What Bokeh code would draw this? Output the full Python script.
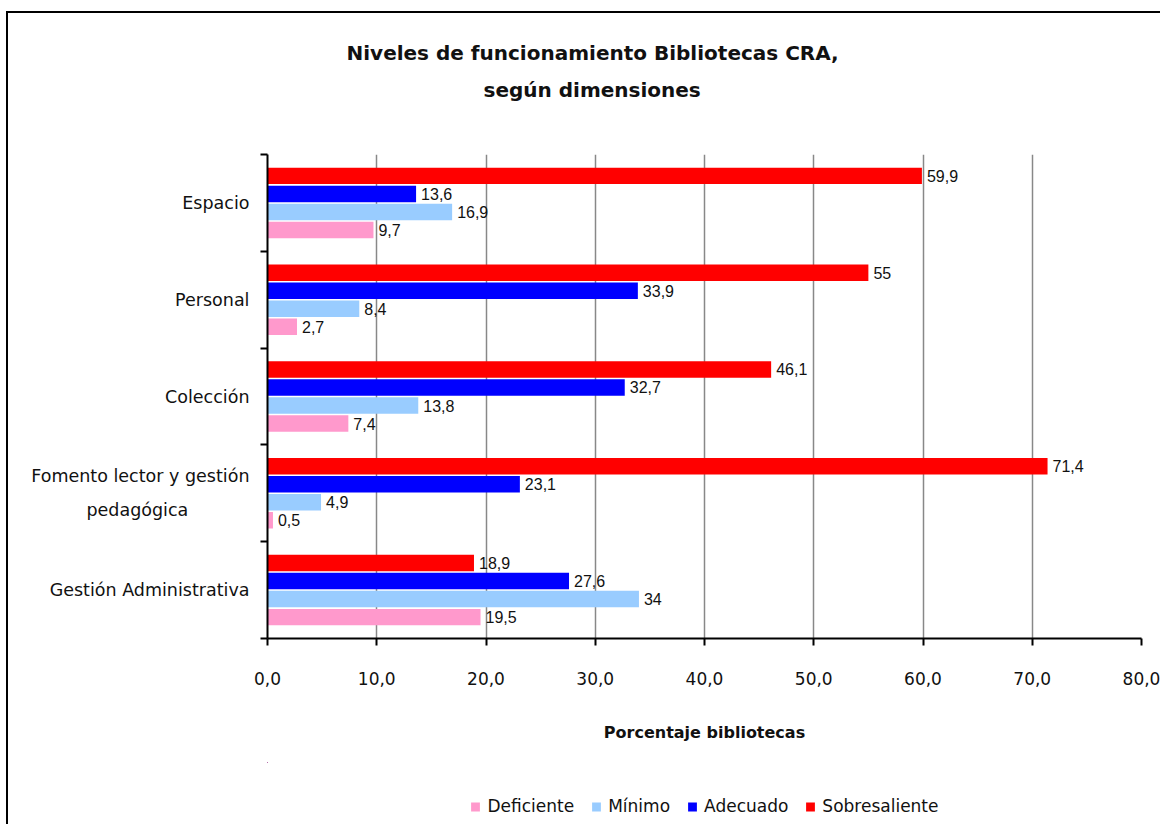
from bokeh.plotting import figure
from bokeh.layouts import column
from bokeh.models import (ColumnDataSource, Range1d, LinearAxis,
                          FixedTicker, Legend, LegendItem, Title)
from bokeh.transform import dodge
from bokeh.core.properties import value
from bokeh.embed import file_html
from bokeh.resources import INLINE

# ---------------- data ----------------
categories = ["Espacio", "Personal", "Colección",
              "Fomento lector y gestión pedagógica", "Gestión Administrativa"]
series = ["Deficiente", "Mínimo", "Adecuado", "Sobresaliente"]
deficiente = [9.7, 2.7, 7.4, 0.5, 19.5]
minimo = [16.9, 8.4, 13.8, 4.9, 34]
adecuado = [13.6, 33.9, 32.7, 23.1, 27.6]
sobresaliente = [59.9, 55, 46.1, 71.4, 18.9]
x_ticks = [0, 10, 20, 30, 40, 50, 60, 70, 80]
x_tick_labels = ["0,0", "10,0", "20,0", "30,0", "40,0", "50,0", "60,0", "70,0", "80,0"]
title_line1 = "Niveles de funcionamiento Bibliotecas CRA,"
title_line2 = "según dimensiones"
x_title = "Porcentaje bibliotecas"

colors = ["#FF99CC", "#99CCFF", "#0000FF", "#FF0000"]
offsets = [-0.279, -0.093, 0.093, 0.279]

n = len(categories)
centers = [n - 0.5 - i for i in range(n)]   # band centre of each category (top to bottom)
bounds = list(range(n + 1))


def fmt(v):
    return str(int(v)) if float(v).is_integer() else str(v).replace(".", ",")


cols = ["deficiente", "minimo", "adecuado", "sobresaliente"]
data = dict(cat=categories, ypos=centers, deficiente=deficiente, minimo=minimo,
            adecuado=adecuado, sobresaliente=sobresaliente)
for c in cols:
    data[c + "_lbl"] = [fmt(v) for v in data[c]]
src = ColumnDataSource(data)

FONT = "DejaVu Sans"
W = 1152

p = figure(width=W, height=749,
           y_range=Range1d(0, n), x_range=Range1d(0, 80),
           output_backend="svg", toolbar_location=None, title=None,
           y_axis_location=None,
           min_border_left=259, min_border_right=19,
           min_border_top=141, min_border_bottom=124)
p.outline_line_color = None
p.background_fill_color = "white"
p.border_fill_color = "white"

# bars and labels
renderers = []
for c, col, off in zip(cols, colors, offsets):
    r = p.hbar(y=dodge("ypos", off), left=0, right=c, height=0.17,
               source=src, fill_color=col, line_color=None)
    renderers.append(r)
    p.text(x=c, y=dodge("ypos", off), text=c + "_lbl", source=src,
           x_offset=5, text_align="left", text_baseline="middle",
           text_font=value("Liberation Sans"), text_font_size="16px",
           text_color="#111111")

# x axis
xa = p.xaxis[0]
xa.ticker = FixedTicker(ticks=x_ticks)
xa.major_label_overrides = dict(zip(x_ticks, x_tick_labels))
xa.major_label_text_font = FONT
xa.major_label_text_font_size = "17px"
xa.major_label_text_color = "#111111"
xa.major_label_standoff = 26
xa.major_tick_out = 7
xa.major_tick_in = 0
xa.minor_tick_out = 0
xa.minor_tick_in = 0
xa.axis_line_width = 2
xa.axis_line_color = "black"
xa.major_tick_line_width = 2
xa.major_tick_line_color = "black"
xa.axis_label = x_title
xa.axis_label_text_font = FONT
xa.axis_label_text_font_style = "bold"
xa.axis_label_text_font_size = "16px"
xa.axis_label_text_color = "#111111"
xa.axis_label_standoff = 35

p.xgrid.ticker = FixedTicker(ticks=x_ticks)
p.xgrid.grid_line_color = "#888888"
p.xgrid.grid_line_width = 1.5
p.ygrid.grid_line_color = None

# y axis: boundary ticks + category labels
ya_b = LinearAxis(ticker=FixedTicker(ticks=bounds),
                  major_label_overrides={b: "" for b in bounds},
                  major_label_text_font_size="0px", major_label_standoff=0,
                  major_tick_out=7, major_tick_in=0, minor_tick_out=0, minor_tick_in=0,
                  axis_line_width=2, major_tick_line_width=2,
                  axis_line_color="black", major_tick_line_color="black")
p.add_layout(ya_b, "left")
nb = "\u00a0"
label_map = dict(zip(centers, categories))
label_map[centers[3]] = "Fomento lector y gestión\npedagógica" + nb * 11
ya_c = LinearAxis(ticker=FixedTicker(ticks=centers),
                  axis_line_color=None, major_tick_line_color=None,
                  major_tick_out=0, major_tick_in=0, minor_tick_out=0, minor_tick_in=0,
                  major_label_standoff=11,
                  major_label_text_font=FONT, major_label_text_font_size="17.5px",
                  major_label_text_line_height=1.7,
                  major_label_text_color="#111111",
                  major_label_overrides=label_map)
p.add_layout(ya_c, "left")

# titles
spacer = Title(text=" ", text_font_size="1px", standoff=44)
t2 = Title(text=title_line2, align="left", offset=216, text_font=FONT,
           text_font_style="bold", text_font_size="20px", text_color="#111111", standoff=11)
t1 = Title(text=title_line1, align="left", offset=79, text_font=FONT,
           text_font_style="bold", text_font_size="20px", text_color="#111111", standoff=11)
p.add_layout(spacer, "above")
p.add_layout(t2, "above")
p.add_layout(t1, "above")

# legend (separate strip below the chart); its swatch renderers lie far outside the view
pl = figure(width=W, height=62, x_range=Range1d(1000, 1080), y_range=Range1d(-10, -9),
            output_backend="svg", toolbar_location=None, title=None,
            x_axis_location=None, y_axis_location=None,
            min_border_left=259, min_border_right=19, min_border_top=0, min_border_bottom=0)
pl.outline_line_color = None
pl.grid.grid_line_color = None
leg_renderers = []
for c, col, off in zip(cols, colors, offsets):
    leg_renderers.append(pl.hbar(y=dodge("ypos", off), left=0, right=c, height=0.17,
                                 source=src, fill_color=col, line_color=None))
legend = Legend(items=[LegendItem(label=s, renderers=[r]) for s, r in zip(series, leg_renderers)],
                orientation="horizontal", location="bottom_center",
                glyph_width=11, glyph_height=11, label_standoff=7, spacing=16,
                padding=2, margin=8, border_line_color=None, background_fill_alpha=0,
                label_text_font=FONT, label_text_font_size="17px", label_text_color="#111111")
pl.add_layout(legend, "center")

layout = column(p, pl, spacing=0,
                styles={"border-left": "2px solid black", "border-top": "2px solid black",
                        "margin-left": "6px", "margin-top": "11px"})

open("out.html", "w").write(file_html(layout, INLINE))
